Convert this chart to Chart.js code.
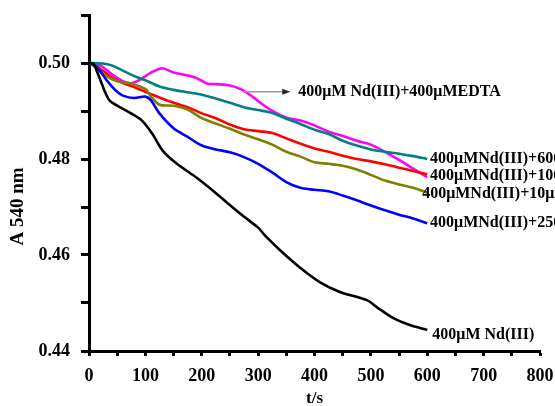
<!DOCTYPE html>
<html>
<head>
<meta charset="utf-8">
<script src="https://cdn.jsdelivr.net/npm/chart.js@4.4.0/dist/chart.umd.min.js"></script>
<style>
  html, body { margin: 0; padding: 0; background: #fff; }
  canvas { display: block; }
</style>
</head>
<body>
<canvas id="chart" width="555" height="406"></canvas>
<script>
// time (s) and absorbance values, one pair of arrays per curve
const T_NONE = [0, 8, 16, 23, 29, 37, 50, 73, 94, 112, 131, 156, 191, 220, 247, 277, 300, 312, 339, 374, 410, 445, 493, 511, 539, 569, 600];
const A_NONE = [0.500, 0.4998, 0.4977, 0.4956, 0.4938, 0.4921, 0.4911, 0.4896, 0.4880, 0.4853, 0.4817, 0.4790, 0.4761, 0.4734, 0.4707, 0.4678, 0.4657, 0.4641, 0.4610, 0.4574, 0.4543, 0.4523, 0.4506, 0.4491, 0.4469, 0.4454, 0.4444];

const T_250 = [0, 10, 20, 30, 40, 50, 60, 80, 100, 110, 125, 150, 175, 200, 225, 250, 275, 300, 325, 350, 375, 400, 425, 450, 475, 500, 525, 550, 575, 600];
const A_250 = [0.500, 0.4995, 0.4983, 0.4966, 0.4952, 0.4940, 0.4932, 0.4927, 0.4930, 0.4922, 0.4895, 0.4864, 0.4846, 0.4828, 0.4820, 0.4814, 0.4804, 0.4790, 0.4772, 0.4752, 0.4740, 0.4736, 0.4733, 0.4724, 0.4714, 0.4703, 0.4693, 0.4684, 0.4676, 0.4666];

const T_100 = [0, 20, 40, 60, 80, 100, 125, 150, 175, 200, 225, 250, 275, 300, 325, 350, 375, 400, 425, 450, 475, 500, 525, 550, 575, 600];
const A_100 = [0.500, 0.4988, 0.4970, 0.4958, 0.4950, 0.4940, 0.4928, 0.4917, 0.4908, 0.4895, 0.4885, 0.4872, 0.4862, 0.4858, 0.4854, 0.4843, 0.4832, 0.4822, 0.4815, 0.4807, 0.4800, 0.4795, 0.4789, 0.4782, 0.4775, 0.4768];

const T_10 = [0, 10, 25, 50, 75, 100, 110, 125, 150, 175, 200, 225, 250, 275, 300, 325, 350, 375, 400, 425, 450, 475, 500, 525, 550, 575, 600];
const A_10 = [0.500, 0.4993, 0.4977, 0.4962, 0.4957, 0.4946, 0.4930, 0.4913, 0.4911, 0.4903, 0.4885, 0.4874, 0.4863, 0.4851, 0.4841, 0.4830, 0.4815, 0.4805, 0.4793, 0.4790, 0.4786, 0.4778, 0.4767, 0.4755, 0.4747, 0.4740, 0.4730];

const T_600 = [0, 25, 40, 60, 80, 100, 125, 150, 175, 200, 225, 250, 275, 300, 325, 350, 375, 400, 425, 450, 475, 500, 525, 550, 575, 600];
const A_600 = [0.500, 0.4999, 0.4995, 0.4984, 0.4973, 0.4964, 0.4951, 0.4944, 0.4939, 0.4934, 0.4926, 0.4917, 0.4908, 0.4902, 0.4896, 0.4884, 0.4873, 0.4861, 0.4852, 0.4838, 0.4828, 0.4820, 0.4815, 0.4811, 0.4806, 0.4800];

const T_EDTA = [0, 20, 40, 60, 75, 90, 110, 130, 150, 175, 190, 210, 225, 250, 270, 290, 310, 330, 350, 375, 400, 425, 450, 475, 500, 525, 550, 575, 600];
const A_EDTA = [0.500, 0.4995, 0.4977, 0.4962, 0.4958, 0.4965, 0.4980, 0.4989, 0.4980, 0.4974, 0.4969, 0.4957, 0.4956, 0.4953, 0.4945, 0.4930, 0.4912, 0.4897, 0.4886, 0.4880, 0.4870, 0.4857, 0.4848, 0.4838, 0.4830, 0.4815, 0.4798, 0.4780, 0.4762];

// labels written at the right end of the curves: [text, time, absorbance]
const CURVE_LABELS = [
  ["400μMNd(III)+600μMEDTA", 605, 0.4800],
  ["400μMNd(III)+100μMEDTA", 605, 0.4765],
  ["400μMNd(III)+10μMEDTA", 591, 0.4728],
  ["400μMNd(III)+250μMEDTA", 605, 0.4666],
  ["400μM Nd(III)", 609, 0.4433],
];
const ARROW_LABEL = "400μM Nd(III)+400μMEDTA";
const ARROW_FROM = [273, 0.4940];
const ARROW_TO = [357, 0.4940];
const Y_TITLE = "A 540 nm";

const COLORS = {
  none: "#000000",
  c250: "#0000FF",
  c100: "#FF0000",
  c10: "#808000",
  c600: "#008080",
  edta: "#FF00FF",
};

const FONT = '"Liberation Serif", "Times New Roman", serif';

function pts(ts, as) {
  return ts.map((t, i) => ({ x: t, y: as[i] }));
}

function line(label, ts, as, color) {
  return {
    label: label,
    data: pts(ts, as),
    borderColor: color,
    backgroundColor: color,
    borderWidth: 2.6,
    pointRadius: 0,
    tension: 0.3,
    fill: false,
  };
}

const notes = {
  id: "notes",
  afterDraw(chart) {
    const ctx = chart.ctx;
    const xs = chart.scales.x;
    const ys = chart.scales.y;
    const area = chart.chartArea;
    ctx.save();

    // arrow to the EDTA curve
    const x0 = xs.getPixelForValue(ARROW_FROM[0]);
    const y0 = ys.getPixelForValue(ARROW_FROM[1]);
    const x1 = xs.getPixelForValue(ARROW_TO[0]);
    ctx.strokeStyle = "#9a9a9a";
    ctx.lineWidth = 1.5;
    ctx.beginPath();
    ctx.moveTo(x0, y0);
    ctx.lineTo(x1 - 6, y0);
    ctx.stroke();
    ctx.fillStyle = "#222";
    ctx.beginPath();
    ctx.moveTo(x1, y0);
    ctx.lineTo(x1 - 8, y0 - 3);
    ctx.lineTo(x1 - 8, y0 + 3);
    ctx.closePath();
    ctx.fill();

    ctx.fillStyle = "#000";
    ctx.font = "bold 16px " + FONT;
    ctx.textAlign = "left";
    ctx.textBaseline = "middle";
    ctx.fillText(ARROW_LABEL, x1 + 8, y0);

    CURVE_LABELS.forEach(([text, t, a]) => {
      ctx.fillText(text, xs.getPixelForValue(t), ys.getPixelForValue(a));
    });

    // y axis title, sits a bit below the middle of the axis
    ctx.font = "bold 19px " + FONT;
    ctx.textAlign = "center";
    ctx.translate(18, area.top + (area.bottom - area.top) * 0.57);
    ctx.rotate(-Math.PI / 2);
    ctx.fillText(Y_TITLE, 0, 0);
    ctx.restore();
  },
};

new Chart(document.getElementById("chart"), {
  type: "line",
  data: {
    datasets: [
      line("400μM Nd(III)", T_NONE, A_NONE, COLORS.none),
      line("+250μM EDTA", T_250, A_250, COLORS.c250),
      line("+10μM EDTA", T_10, A_10, COLORS.c10),
      line("+100μM EDTA", T_100, A_100, COLORS.c100),
      line("+600μM EDTA", T_600, A_600, COLORS.c600),
      line("+400μM EDTA", T_EDTA, A_EDTA, COLORS.edta),
    ],
  },
  plugins: [notes],
  options: {
    responsive: false,
    devicePixelRatio: 1,
    animation: false,
    layout: { padding: { top: 15, right: 15, left: 0, bottom: 0 } },
    plugins: { legend: { display: false }, tooltip: { enabled: false } },
    scales: {
      x: {
        type: "linear",
        min: 0,
        max: 800,
        border: { color: "#000", width: 3 },
        grid: {
          drawOnChartArea: false,
          drawTicks: true,
          tickLength: 5,
          tickWidth: 3,
          tickColor: "#000",
        },
        ticks: {
          stepSize: 50,
          autoSkip: false,
          maxRotation: 0,
          padding: 10,
          color: "#000",
          font: { family: FONT, size: 18, weight: "bold" },
          callback: (v) => (v % 100 === 0 ? String(v) : ""),
        },
        title: {
          display: true,
          text: "t/s",
          color: "#000",
          font: { family: FONT, size: 17, weight: "bold", lineHeight: 1 },
          padding: { top: 0, bottom: -1 },
        },
        afterFit: (s) => {
          s.height = 55;
          s.paddingLeft = 0;
          s.paddingRight = 0;
        },
      },
      y: {
        min: 0.44,
        max: 0.51,
        border: { color: "#000", width: 3 },
        grid: {
          drawOnChartArea: false,
          drawTicks: true,
          tickLength: 8,
          tickWidth: 3,
          tickColor: "#000",
        },
        ticks: {
          stepSize: 0.01,
          autoSkip: false,
          padding: 11,
          color: "#000",
          font: { family: FONT, size: 18, weight: "bold" },
          callback: (v) => (Math.round(v * 100) % 2 === 0 ? v.toFixed(2) : ""),
        },
        afterFit: (s) => {
          s.width = 89;
          s.paddingTop = 0;
          s.paddingBottom = 0;
        },
      },
    },
  },
});
</script>
</body>
</html>
